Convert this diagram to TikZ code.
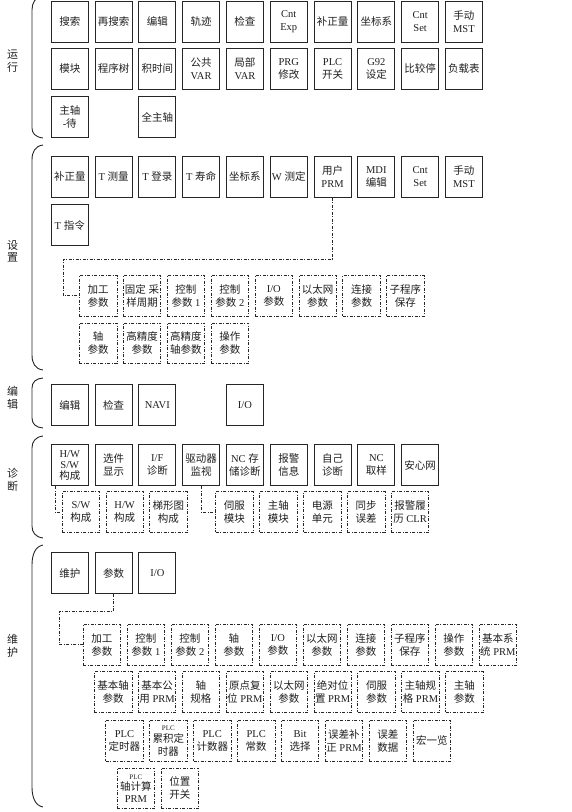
\documentclass[tikz,border=0pt]{standalone}
\usepackage{fontspec}
\setmainfont{Liberation Serif}
\newfontfamily\cjkfont{Noto Sans CJK SC}
\newcommand\zh[1]{{\cjkfont #1}}
\newcommand\sm[1]{{\fontsize{7}{8}\selectfont #1}}
\definecolor{ln}{gray}{0.15}
\definecolor{txt}{gray}{0.12}
\begin{document}
\begin{tikzpicture}[x=1pt,y=-1pt,
  font=\fontsize{10.5}{13}\selectfont,
  solidbox/.style={draw=ln, line width=1.1pt, minimum width=37pt, minimum height=41pt,
    inner sep=0pt, align=center, anchor=north west, text=txt},
  dbox/.style={draw=ln, line width=0.8pt, dash pattern=on 3pt off 1.6pt on 0.8pt off 1.6pt,
    minimum width=37.5pt, minimum height=40.7pt, inner sep=0pt, align=center,
    anchor=north west, text=txt},
  conn/.style={draw=ln, line width=0.8pt, dash pattern=on 3pt off 1.6pt on 0.8pt off 1.6pt},
  brk/.style={draw=ln, line width=0.9pt},
  grp/.style={align=center, font=\cjkfont\fontsize{11}{12.5}\selectfont, text=txt}]
\useasboundingbox (0,0) rectangle (572,812);

% ---------- 运行 ----------
\foreach \t [count=\i from 0] in {\zh{搜索},\zh{再搜索},\zh{编辑},\zh{轨迹},\zh{检查},
  {Cnt\\Exp},\zh{补正量},\zh{坐标系},{Cnt\\Set},{\zh{手动}\\MST}}
  \node[solidbox] (a1-\i) at ({50.7+43.8*\i},0.6) {\t};
\foreach \t [count=\i from 0] in {\zh{模块},\zh{程序树},\zh{积时间},{\zh{公共}\\VAR},
  {\zh{局部}\\VAR},{PRG\\\zh{修改}},{PLC\\\zh{开关}},{G92\\\zh{设定}},\zh{比较停},\zh{负载表}}
  \node[solidbox] (a2-\i) at ({50.7+43.8*\i},47.7) {\t};
\node[solidbox] (a3-0) at (50.7,95.9) {\zh{主轴}\\-\zh{待}};
\node[solidbox] (a3-2) at (138.3,95.9) {\zh{全主轴}};

% ---------- 设置 ----------
\foreach \t [count=\i from 0] in {\zh{补正量},T \zh{测量},T \zh{登录},T \zh{寿命},\zh{坐标系},
  W \zh{测定},{\zh{用户}\\PRM},{MDI\\\zh{编辑}},{Cnt\\Set},{\zh{手动}\\MST}}
  \node[solidbox] (s1-\i) at ({50.7+43.8*\i},155.7) {\t};
\node[solidbox] (s2-0) at (50.7,204.3) {T \zh{指令}};
\foreach \t [count=\i from 0] in {{\zh{加工}\\\zh{参数}},{\zh{固定} \zh{采}\\\zh{样周期}},
  {\zh{控制}\\\zh{参数} 1},{\zh{控制}\\\zh{参数} 2},{I/O\\\zh{参数}},{\zh{以太网}\\\zh{参数}},
  {\zh{连接}\\\zh{参数}},{\zh{子程序}\\\zh{保存}}}
  \node[dbox] (d1-\i) at ({79+43.9*\i},275) {\t};
\foreach \t [count=\i from 0] in {{\zh{轴}\\\zh{参数}},{\zh{高精度}\\\zh{参数}},
  {\zh{高精度}\\\zh{轴参数}},{\zh{操作}\\\zh{参数}}}
  \node[dbox] (d2-\i) at ({79+43.9*\i},322.7) {\t};
\coordinate (sc) at (63.3,259);
\draw[conn] (s1-6.south) |- (sc) |- (d1-0.west);

% ---------- 编辑 ----------
\node[solidbox] (e-0) at (50.7,384.3) {\zh{编辑}};
\node[solidbox] (e-1) at (94.5,384.3) {\zh{检查}};
\node[solidbox] (e-2) at (138.3,384.3) {NAVI};
\node[solidbox] (e-4) at (225.9,384.3) {I/O};

% ---------- 诊断 ----------
\node[solidbox, font=\fontsize{10.5}{11}\selectfont] (g1-0) at (50.7,444) {H/W\\S/W\\\zh{构成}};
\foreach \t [count=\i from 1] in {{\zh{选件}\\\zh{显示}},{I/F\\\zh{诊断}},{\zh{驱动器}\\\zh{监视}},
  {NC \zh{存}\\\zh{储诊断}},{\zh{报警}\\\zh{信息}},{\zh{自己}\\\zh{诊断}},{NC\\\zh{取样}},\zh{安心网}}
  \node[solidbox] (g1-\i) at ({50.7+43.8*\i},444) {\t};
\foreach \t/\x [count=\i from 0] in {{S/W\\\zh{构成}}/61.7,{H/W\\\zh{构成}}/105.5,
  {\zh{梯形图}\\\zh{构成}}/149.3,{\zh{伺服}\\\zh{模块}}/215.3,{\zh{主轴}\\\zh{模块}}/259.2,
  {\zh{电源}\\\zh{单元}}/303.1,{\zh{同步}\\\zh{误差}}/347,{\zh{报警履}\\\zh{历} CLR}/390.9}
  \node[dbox] (g2-\i) at (\x,491.3) {\t};
\draw[conn] ([xshift=4.5pt]g1-0.south west) |- (g2-0.west);
\draw[conn] (g1-3.south) |- (g2-3.west);

% ---------- 维护 ----------
\node[solidbox] (m1-0) at (50.7,552.3) {\zh{维护}};
\node[solidbox] (m1-1) at (94.5,552.3) {\zh{参数}};
\node[solidbox] (m1-2) at (138.3,552.3) {I/O};
\foreach \t [count=\i from 0] in {{\zh{加工}\\\zh{参数}},{\zh{控制}\\\zh{参数} 1},
  {\zh{控制}\\\zh{参数} 2},{\zh{轴}\\\zh{参数}},{I/O\\\zh{参数}},{\zh{以太网}\\\zh{参数}},
  {\zh{连接}\\\zh{参数}},{\zh{子程序}\\\zh{保存}},{\zh{操作}\\\zh{参数}},{\zh{基本系}\\\zh{统} PRM}}
  \node[dbox] (n1-\i) at ({82.7+44*\i},624) {\t};
\foreach \t [count=\i from 0] in {{\zh{基本轴}\\\zh{参数}},{\zh{基本公}\\\zh{用} PRM},
  {\zh{轴}\\\zh{规格}},{\zh{原点复}\\\zh{位} PRM},{\zh{以太网}\\\zh{参数}},{\zh{绝对位}\\\zh{置} PRM},
  {\zh{伺服}\\\zh{参数}},{\zh{主轴规}\\\zh{格} PRM},{\zh{主轴}\\\zh{参数}}}
  \node[dbox] (n2-\i) at ({94+43.9*\i},671.3) {\t};
\foreach \t [count=\i from 0] in {{PLC\\\zh{定时器}},{\sm{PLC}\\[-1pt]\zh{累积定}\\\zh{时器}},
  {PLC\\\zh{计数器}},{PLC\\\zh{常数}},{Bit\\\zh{选择}},{\zh{误差补}\\\zh{正} PRM},
  {\zh{误差}\\\zh{数据}},\zh{宏一览}}
  \node[dbox] (n3-\i) at ({105.3+43.9*\i},720) {\t};
\node[dbox, font=\fontsize{10.5}{12}\selectfont] (n4-0) at (116.7,767.7) {\sm{PLC}\\[-1pt]\zh{轴计算}\\PRM};
\node[dbox] (n4-1) at (160.6,767.7) {\zh{位置}\\\zh{开关}};
\coordinate (mc) at (59,611.7);
\draw[conn] (m1-1.south) |- (mc) |- (n1-0.west);

% ---------- brackets ----------
\draw[brk] (43,-4) .. controls (35,-3) and (32,3) .. (32,10) -- (32,128)
  .. controls (32,133) and (35,137) .. (43,138);
\draw[brk] (43,145) .. controls (35,146) and (32,152) .. (32,160) -- (32,355)
  .. controls (32,363) and (35,369) .. (43,370);
\draw[brk] (43,378) .. controls (36,378.5) and (32,382) .. (32,388) -- (32,418)
  .. controls (32,424) and (36,427.5) .. (43,428);
\draw[brk] (43,436) .. controls (35,437) and (32,442) .. (32,448) -- (32,526)
  .. controls (32,532) and (35,537) .. (43,538);
\draw[brk] (43,545) .. controls (35,546.5) and (32,555) .. (32,565) -- (32,787)
  .. controls (32,797) and (35,805.5) .. (43,807);

% ---------- group labels ----------
\node[grp] (l1) at (12.5,61) {运\\行};
\node[grp] (l2) at (12.5,251) {设\\置};
\node[grp] (l3) at (12.5,398) {编\\辑};
\node[grp] (l4) at (12.5,480) {诊\\断};
\node[grp] (l5) at (12.5,646) {维\\护};
\end{tikzpicture}
\end{document}
